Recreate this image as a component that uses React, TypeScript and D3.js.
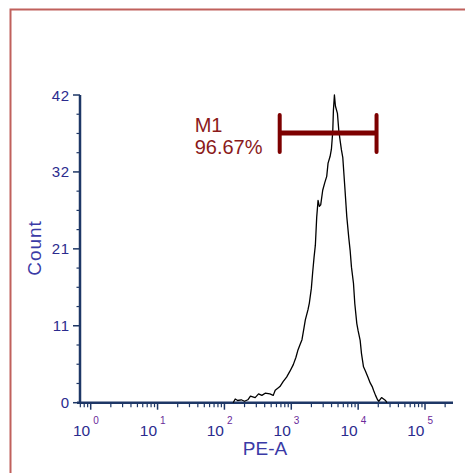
import React from "react";
import * as d3 from "d3";

// PE-A channel values and histogram counts
const peValues = [135, 145, 158, 178, 200, 224, 245, 288, 324, 363, 407, 479, 537, 575, 676, 759, 851, 955, 1072, 1175, 1259, 1349, 1445, 1549, 1622, 1778, 1862, 1995, 2089, 2188, 2291, 2399, 2512, 2630, 2754, 2951, 3162, 3388, 3548, 3802, 3981, 4169, 4266, 4416, 4571, 4898, 5129, 5370, 5623, 5888, 6310, 6761, 7244, 7586, 7943, 8511, 8913, 9550, 10000, 10715, 11220, 12023, 12882, 14125, 15136, 16218, 16982, 18197, 19498, 20417, 22387, 23988, 25704, 26915];
const counts = [0, 0.5, 0.3, 0.4, 0.2, 0.4, 0.9, 0.7, 1.2, 1.0, 1.3, 1.2, 1.0, 1.7, 2.2, 2.9, 3.5, 4.3, 5.2, 6.2, 7.2, 7.9, 8.6, 10.2, 11.3, 12.7, 13.6, 15.6, 17.8, 19.8, 21.5, 25.3, 27.6, 26.8, 27.0, 29.0, 30.0, 30.9, 32.7, 33.6, 34.6, 37.0, 39.9, 42, 40.5, 39.5, 37.2, 35.8, 34.5, 33.5, 29.5, 25.4, 22.5, 20.8, 18.5, 16.3, 13.5, 10.8, 9.8, 8.5, 6.7, 4.9, 4.3, 3.4, 2.7, 2.2, 1.7, 1.0, 0.4, 0.2, 0.7, 0.5, 0.3, 0];

const yTickValues = [0, 10.5, 21, 31.5, 42];
const yTickLabels = ["0", "11", "21", "32", "42"];
const xDecades = [0, 1, 2, 3, 4, 5];

const markerName = "M1";
const markerPercent = "96.67%";
const markerRange = [671, 18840];
const markerLevel = 36.8;

const xDomain = [Math.pow(10, -0.16), 262144];
const yDomain = [0, 42];

export default function App() {
  const W = 465, H = 473;
  const x = d3.scaleLog().domain(xDomain).range([80, 453]);
  const y = d3.scaleLinear().domain(yDomain).range([402.7, 95]);

  const pts: [number, number][] = peValues.map((v, i) => [v, counts[i]]);
  const line = d3.line<[number, number]>().x(d => x(d[0])).y(d => y(d[1]));

  const xMinor: number[] = [];
  for (let e = -1; e <= 5; e++) {
    for (let m = 2; m <= 9; m++) {
      const v = m * Math.pow(10, e);
      if (v >= xDomain[0] && v <= xDomain[1]) xMinor.push(v);
    }
  }
  const yMinor: number[] = [];
  const step = 42 / 16;
  for (let i = 0; i <= 16; i++) {
    if (i % 4 !== 0) yMinor.push(i * step);
  }

  const axisColor = "#1e3766";
  const labelColor = "#2b2b8e";
  const markColor = "#7d0000";
  const mx1 = x(markerRange[0]);
  const mx2 = x(markerRange[1]);
  const my = y(markerLevel);

  return (
    <svg width={W} height={H} style={{ position: "absolute", left: 0, top: 0, background: "#fff" }}
      fontFamily="'Liberation Sans', Arial, sans-serif">
      <rect x={10.5} y={9.5} width={600} height={600} fill="none" stroke="#c0605c" strokeWidth={2} />

      {/* y axis */}
      <line x1={80} x2={80} y1={y(42)} y2={y(0) + 1} stroke={axisColor} strokeWidth={2.5} />
      {yTickValues.map((v, i) => (
        <g key={"yt" + i}>
          <line x1={73} x2={80} y1={y(v)} y2={y(v)} stroke={axisColor} strokeWidth={1.5} />
          <text x={70} y={y(v) + 5.5} textAnchor="end" fontSize={15} letterSpacing={0.8} fill={labelColor}>{yTickLabels[i]}</text>
        </g>
      ))}
      {yMinor.map((v, i) => (
        <line key={"ym" + i} x1={76.5} x2={80} y1={y(v)} y2={y(v)} stroke={axisColor} strokeWidth={1.2} />
      ))}

      {/* x axis */}
      <line x1={77} x2={453} y1={y(0)} y2={y(0)} stroke={axisColor} strokeWidth={2.5} />
      {xMinor.map((v, i) => (
        <line key={"xm" + i} x1={x(v)} x2={x(v)} y1={y(0)} y2={y(0) + 4.5} stroke={axisColor} strokeWidth={1.2} />
      ))}
      {xDecades.map(e => (
        <g key={"xd" + e}>
          <line x1={x(Math.pow(10, e))} x2={x(Math.pow(10, e))} y1={y(0)} y2={y(0) + 7} stroke={axisColor} strokeWidth={1.5} />
          <text x={x(Math.pow(10, e)) - 0.5} y={435.5} textAnchor="end" fontSize={15.5} fill={labelColor}>10</text>
          <text x={x(Math.pow(10, e)) + 2.5} y={423.5} textAnchor="start" fontSize={10} fill="#6a2a9a">{e}</text>
        </g>
      ))}

      {/* axis titles */}
      <text x={265} y={455} textAnchor="middle" fontSize={19} fill="#3a3aa6">PE-A</text>
      <text transform={`translate(41,248) rotate(-90)`} textAnchor="middle" fontSize={19} letterSpacing={1} fill="#3a3aa6">Count</text>

      {/* histogram */}
      <path d={line(pts) || ""} fill="none" stroke="#000" strokeWidth={1.3} strokeLinejoin="round" />

      {/* marker */}
      <line x1={mx1} x2={mx2} y1={my} y2={my} stroke={markColor} strokeWidth={5} />
      <line x1={mx1} x2={mx1} y1={my - 18} y2={my + 19} stroke={markColor} strokeWidth={4} strokeLinecap="round" />
      <line x1={mx2} x2={mx2} y1={my - 18} y2={my + 19} stroke={markColor} strokeWidth={4} strokeLinecap="round" />
      <text x={mx1 - 85} y={131.5} fontSize={20} fill="#8b1a1a">{markerName}</text>
      <text x={mx1 - 85} y={154} fontSize={20} fill="#8b1a1a">{markerPercent}</text>
    </svg>
  );
}
